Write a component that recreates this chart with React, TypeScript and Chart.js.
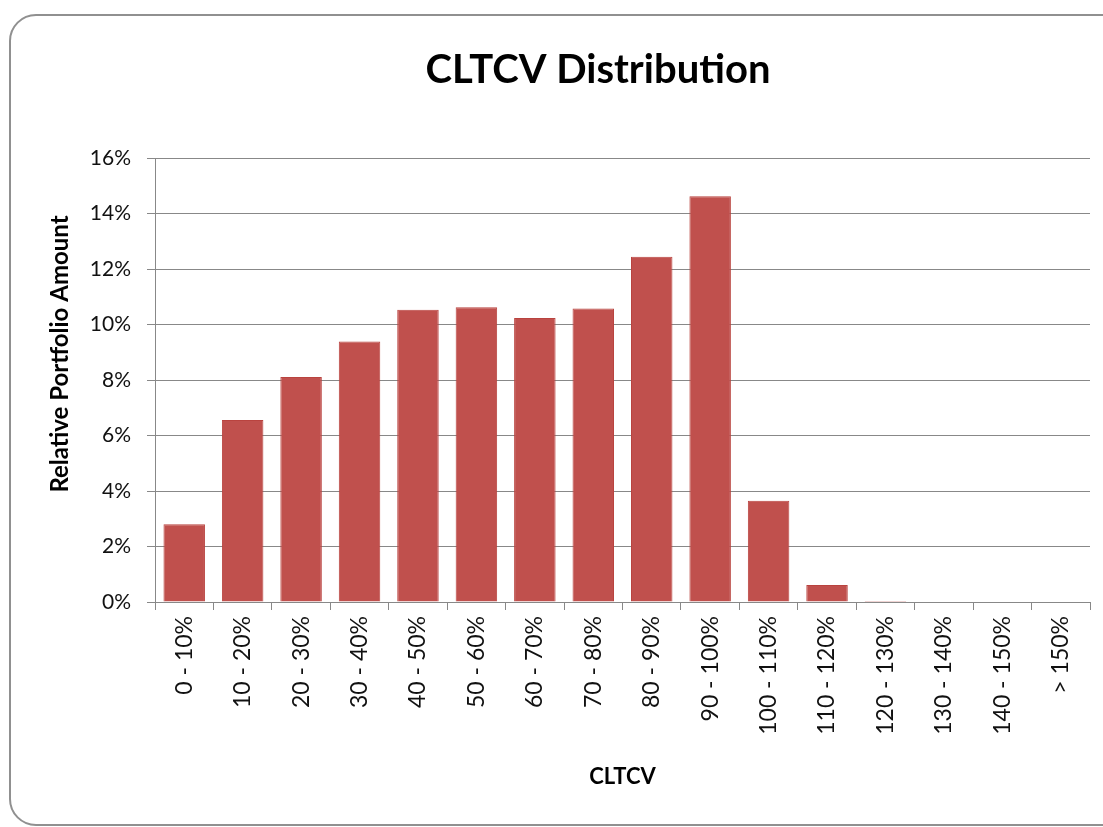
import React, { useEffect, useRef } from 'react';
import { Chart, registerables } from 'chart.js';

Chart.register(...registerables);

const chartTitle = 'CLTCV Distribution';
const xAxisTitle = 'CLTCV';
const yAxisTitle = 'Relative Portfolio Amount';

const categories = [
  '0 - 10%', '10 - 20%', '20 - 30%', '30 - 40%', '40 - 50%', '50 - 60%',
  '60 - 70%', '70 - 80%', '80 - 90%', '90 - 100%', '100 - 110%', '110 - 120%',
  '120 - 130%', '130 - 140%', '140 - 150%', '> 150%',
];

const relativeAmount = [
  2.8, 6.56, 8.11, 9.39, 10.53, 10.62, 10.23, 10.58, 12.44, 14.62, 3.65, 0.61,
  0.04, 0, 0, 0,
];

const yTickValues = [0, 2, 4, 6, 8, 10, 12, 14, 16];

const FONT = 'Lato, "Open Sans", sans-serif';
const GRID = '#888888';

export default function App() {
  const ref = useRef<HTMLCanvasElement>(null);

  useEffect(() => {
    if (!ref.current) return;
    const titles = {
      id: 'excelTitles',
      afterDraw(chart: any) {
        const { ctx, chartArea } = chart;
        ctx.save();
        ctx.fillStyle = '#000';
        ctx.textAlign = 'center';
        ctx.textBaseline = 'alphabetic';
        ctx.font = `bold 40px ${FONT}`;
        ctx.fillText(chartTitle, chartArea.left + 443, chartArea.top - 75);
        ctx.translate(chartArea.left - 95, chartArea.top + 196);
        ctx.rotate(-Math.PI / 2);
        ctx.textBaseline = 'middle';
        ctx.font = `bold 24px ${FONT}`;
        ctx.fillText(yAxisTitle, 0, 0);
        ctx.restore();
      },
    };

    const chart = new Chart(ref.current, {
      type: 'bar',
      data: {
        labels: categories,
        datasets: [
          {
            data: relativeAmount,
            backgroundColor: '#C0504D',
            borderColor: '#B9433F',
            borderWidth: 1,
            barPercentage: 0.71,
            categoryPercentage: 1,
          },
        ],
      },
      options: {
        responsive: false,
        animation: false,
        layout: { padding: { left: 0, top: 158, right: 13, bottom: 33 } },
        plugins: {
          legend: { display: false },
          title: { display: false },
          tooltip: { enabled: false },
        },
        scales: {
          x: {
            grid: {
              display: true,
              drawOnChartArea: false,
              drawTicks: true,
              tickLength: 8,
              color: GRID,
              offset: true,
            },
            border: { display: true, color: GRID, width: 1 },
            ticks: {
              autoSkip: false,
              maxRotation: 90,
              minRotation: 90,
              padding: 6,
              color: '#111',
              font: { family: FONT, size: 23 },
            },
            title: {
              display: true,
              text: xAxisTitle,
              color: '#000',
              font: { family: FONT, size: 22, weight: 'bold' },
              padding: { top: 0, bottom: 4 },
            },
            afterFit(scale: any) {
              scale.height = 192;
            },
          },
          y: {
            min: 0,
            max: 16,
            afterBuildTicks(scale: any) {
              scale.ticks = yTickValues.map((v) => ({ value: v }));
            },
            grid: { color: GRID, tickLength: 8 },
            border: { display: true, color: GRID, width: 1 },
            ticks: {
              padding: 16,
              color: '#111',
              font: { family: FONT, size: 21 },
              callback: (v: any) => `${v}%`,
            },
            afterFit(scale: any) {
              scale.width = 155;
            },
          },
        },
      },
      plugins: [titles],
    });
    return () => chart.destroy();
  }, []);

  return (
    <div
      style={{
        position: 'fixed',
        left: 0,
        top: 0,
        width: 1103,
        height: 827,
        overflow: 'hidden',
        background: '#fff',
      }}
    >
      <canvas
        ref={ref}
        width={1103}
        height={827}
        style={{ position: 'absolute', left: 0, top: 0, width: 1103, height: 827 }}
      />
      <div
        style={{
          position: 'absolute',
          left: 9,
          top: 14,
          width: 1130,
          height: 812,
          border: '2px solid #909090',
          borderRadius: 27,
          boxSizing: 'border-box',
          pointerEvents: 'none',
        }}
      />
    </div>
  );
}
